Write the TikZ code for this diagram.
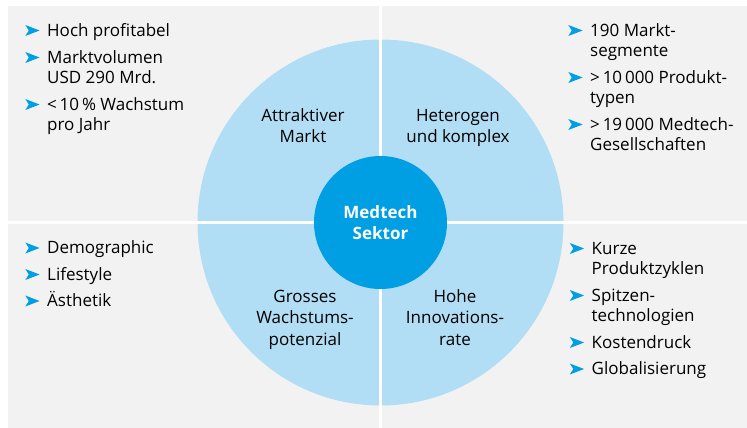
\documentclass[tikz,border=0pt]{standalone}
\usepackage{fontspec}
\setmainfont{Open Sans}
\usetikzlibrary{calc,positioning}
\definecolor{medBlue}{HTML}{009FE3}
\definecolor{medLight}{HTML}{B1DEF5}
\definecolor{medGray}{HTML}{F2F2F2}

% fixed top of the first line, so that the first baseline lies 17pt below north
\newcommand\lineTop{\rule{0pt}{17pt}}

\tikzset{
  listText/.style={anchor=north west,align=left,inner sep=0pt,font=\fontsize{17}{20.5}\selectfont},
  ringText/.style={anchor=north,align=center,inner sep=0pt,font=\fontsize{17}{21.5}\selectfont},
  core/.style={circle,fill=medBlue,minimum size=133pt,inner sep=0pt,text=white,align=center,font=\fontsize{17}{20.7}\selectfont\bfseries},
  arrowBullet/.pic={\fill[medBlue] (-21.7,0) -- (-7.4,-5.5) -- (-21.7,-11) -- (-18.2,-5.5) -- cycle;}
}

\begin{document}
\begin{tikzpicture}[x=1pt,y=-1pt]
\useasboundingbox (0,0) rectangle (747,428);

\def\cx{380.5}
\def\cy{222.5}
\def\rBig{183}

% the four grey fields and the ring
\fill[medGray] (8,6) rectangle (747,428);
\fill[medLight] (\cx,\cy) circle [radius=\rBig];
\draw[white,line width=3pt] (8,\cy) -- (747,\cy);
\draw[white,line width=3pt] (\cx,6) -- (\cx,428);

% the core
\node[core] (sector) at (\cx,\cy) {Medtech\\Sektor};

% the ring labels (north = first baseline - 17)
\node[ringText] (attr)   at (303,104) {\lineTop Attraktiver\\Markt};
\node[ringText] (hetero) at (458,104) {\lineTop Heterogen\\und komplex};
\node[ringText] (growth) at (305,285) {\lineTop Grosses\\Wachstums-\\potenzial};
\node[ringText] (innov)  at (455,285) {\lineTop Hohe\\Innovations-\\rate};

% the bullet lists (baseline of first line / text)
\def\topLeft{36/{Hoch profitabel},
             63/{Marktvolumen\\USD 290 Mrd.},
             110/{<\,10\,\% Wachstum\\pro Jahr}}
\def\topRight{36/{190 Markt-\\segmente},
              83/{>\,10\,000 Produkt-\\typen},
              130/{>\,19\,000 Medtech-\\Gesellschaften}}
\def\botLeft{253.5/{Demographic},
             280/{Lifestyle},
             306.5/{Ästhetik}}
\def\botRight{254/{Kurze\\Produktzyklen},
              301/{Spitzen-\\technologien},
              348/{Kostendruck},
              374.5/{Globalisierung}}

\foreach \y/\txt [count=\i] in \topLeft
{
  \node[listText] (tl\i) at (47,{\y-17}) {\lineTop\txt};
  \pic at ($(tl\i.north west)+(0,17)$) {arrowBullet};
}
\foreach \y/\txt [count=\i] in \topRight
{
  \node[listText] (tr\i) at (590,{\y-17}) {\lineTop\txt};
  \pic at ($(tr\i.north west)+(0,17)$) {arrowBullet};
}
\foreach \y/\txt [count=\i] in \botLeft
{
  \node[listText] (bl\i) at (47,{\y-17}) {\lineTop\txt};
  \pic at ($(bl\i.north west)+(0,17)$) {arrowBullet};
}
\foreach \y/\txt [count=\i] in \botRight
{
  \node[listText] (br\i) at (591.5,{\y-17}) {\lineTop\txt};
  \pic at ($(br\i.north west)+(0,17)$) {arrowBullet};
}

\end{tikzpicture}
\end{document}
